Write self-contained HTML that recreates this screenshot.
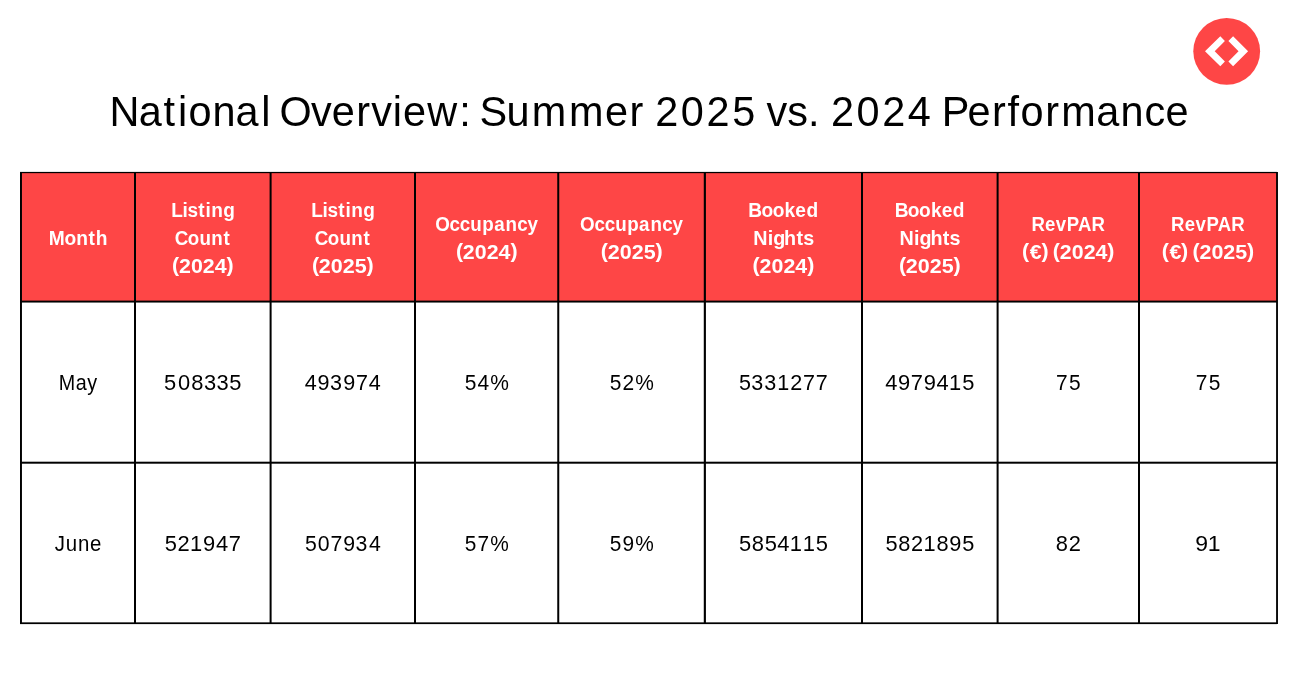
<!DOCTYPE html>
<html lang="en">
<head>
<meta charset="utf-8">
<title>National Overview: Summer 2025 vs. 2024 Performance</title>
<style>
 html,body{margin:0;padding:0;background:#fff;}
 body{width:1298px;height:674px;overflow:hidden;}
 svg{display:block;position:absolute;left:0;top:0;will-change:transform;}
 text{font-family:"Liberation Sans", sans-serif;white-space:pre;}
 .rule{fill:#000;}
 .t{font-weight:400;fill:#000;}
 .h{font-weight:700;fill:#fff;}
 .d{font-weight:400;fill:#000;}
</style>
</head>
<body>
<svg width="1298" height="674" viewBox="0 0 1298 674">
<defs><filter id="gray-aa" x="0" y="0" width="1298" height="674" filterUnits="userSpaceOnUse" color-interpolation-filters="sRGB"><feOffset dx="0" dy="0"/></filter></defs>
<rect x="0" y="0" width="1298" height="674" fill="#ffffff"/>
<g id="logo">
<circle cx="1226.70" cy="51.30" r="33.40" fill="#FE4646"/>
<path fill="#ffffff" d="M1205.0 51.3 L1220.3 36.3 L1224.9 41.05 L1214.7 51.3 L1224.9 61.55 L1220.3 66.3 Z"/>
<path fill="#ffffff" d="M1248.1 51.3 L1233.1 36.3 L1228.4 41.05 L1238.55 51.3 L1228.4 61.55 L1233.1 66.3 Z"/>
</g>
<g id="table">
<rect id="header-fill" x="21.00" y="172.60" width="1255.95" height="129.00" fill="#FE4646"/>
<rect class="rule" x="20.00" y="171.90" width="1257.00" height="1.25"/>
<rect class="rule" x="20.00" y="300.60" width="1257.00" height="1.95"/>
<rect class="rule" x="20.00" y="461.70" width="1257.00" height="2.00"/>
<rect class="rule" x="20.00" y="622.35" width="1257.00" height="1.75"/>
<rect class="rule" x="20.00" y="172.00" width="1.95" height="452.00"/>
<rect class="rule" x="134.00" y="172.00" width="2.00" height="452.00"/>
<rect class="rule" x="269.60" y="172.00" width="2.00" height="452.00"/>
<rect class="rule" x="414.00" y="172.00" width="2.00" height="452.00"/>
<rect class="rule" x="557.25" y="172.00" width="2.00" height="452.00"/>
<rect class="rule" x="703.78" y="172.00" width="2.14" height="452.00"/>
<rect class="rule" x="861.00" y="172.00" width="2.00" height="452.00"/>
<rect class="rule" x="996.60" y="172.00" width="2.00" height="452.00"/>
<rect class="rule" x="1138.00" y="172.00" width="2.00" height="452.00"/>
<rect class="rule" x="1276.10" y="172.00" width="1.85" height="452.00"/>
</g>
<g id="labels" filter="url(#gray-aa)">
<text class="t" font-size="42.90" transform="scale(0.966 1)" x="113.34 143.75 169.35 184.34 195.05 220.05 243.74 270.47 280.06 289.45 321.92 343.40 368.81 384.20 406.57 417.09 442.34 475.30 487.71 496.46 524.35 550.42 589.00 626.29 651.71 666.52 678.31 704.78 731.34 757.99 782.98 793.55 814.92 836.49 848.46 860.26 886.72 913.28 939.74 964.93 974.98 1001.48 1026.89 1042.95 1056.47 1082.17 1098.50 1134.84 1159.84 1184.71 1206.45" y="125.80">National Overview: Summer 2025 vs. 2024 Performance</text>
<text class="h" font-size="20.10" transform="scale(0.955 1)" x="50.99 67.65 79.77 92.64 100.16" y="244.90">Month</text>
<text class="h" font-size="20.10" transform="scale(0.947 1)" x="180.75 192.62 198.11 209.41 217.12 223.06 235.64" y="216.90">Listing</text>
<text class="h" font-size="20.10" transform="scale(0.933 1)" x="187.36 201.36 213.72 226.50 239.59" y="244.90">Count</text>
<text class="h" font-size="20.10" transform="scale(1.063 1)" x="161.76 168.32 179.59 190.80 201.94 213.11" y="272.30 272.90 272.90 272.90 272.90 272.30">(2024)</text>
<text class="h" font-size="20.10" transform="scale(0.947 1)" x="328.59 340.45 345.95 357.24 364.95 370.90 383.47" y="216.90">Listing</text>
<text class="h" font-size="20.10" transform="scale(0.933 1)" x="337.42 351.41 363.77 376.55 389.65" y="244.90">Count</text>
<text class="h" font-size="20.10" transform="scale(1.071 1)" x="291.24 297.73 308.92 320.06 331.28 342.21" y="272.30 272.90 272.90 272.90 272.90 272.30">(2025)</text>
<text class="h" font-size="20.10" transform="scale(0.935 1)" x="465.39 480.76 491.67 502.91 515.79 528.53 540.73 553.16 564.29" y="230.90">Occupancy</text>
<text class="h" font-size="20.10" transform="scale(1.063 1)" x="428.88 435.44 446.71 457.92 469.06 480.24" y="258.30 258.90 258.90 258.90 258.90 258.30">(2024)</text>
<text class="h" font-size="20.10" transform="scale(0.935 1)" x="620.42 635.79 646.70 657.94 670.81 683.56 695.75 708.18 719.32" y="230.90">Occupancy</text>
<text class="h" font-size="20.10" transform="scale(1.071 1)" x="560.99 567.48 578.66 589.80 601.03 611.96" y="258.30 258.90 258.90 258.90 258.90 258.30">(2025)</text>
<text class="h" font-size="20.10" transform="scale(0.953 1)" x="785.24 799.05 810.84 823.33 834.61 846.31" y="216.90">Booked</text>
<text class="h" font-size="20.10" transform="scale(0.983 1)" x="766.23 780.94 786.58 797.68 810.30 817.15" y="244.90">Nights</text>
<text class="h" font-size="20.10" transform="scale(1.063 1)" x="708.00 714.55 725.82 737.04 748.17 759.35" y="272.30 272.90 272.90 272.90 272.90 272.30">(2024)</text>
<text class="h" font-size="20.10" transform="scale(0.953 1)" x="938.80 952.61 964.41 976.89 988.17 999.87" y="216.90">Booked</text>
<text class="h" font-size="20.10" transform="scale(0.983 1)" x="915.11 929.82 935.46 946.56 959.18 966.03" y="244.90">Nights</text>
<text class="h" font-size="20.10" transform="scale(1.071 1)" x="839.33 845.82 857.00 868.14 879.37 890.30" y="272.30 272.90 272.90 272.90 272.90 272.30">(2025)</text>
<text class="h" font-size="20.10" transform="scale(0.925 1)" x="1115.05 1129.78 1141.46 1153.30 1165.52 1180.02" y="230.90">RevPAR</text>
<text class="h" font-size="20.10" transform="scale(1.062 1)" x="962.45 969.60 980.59 987.09 991.32 997.88 1009.16 1020.40 1031.54 1042.72" y="258.30 258.90 258.30 258.90 258.30 258.90 258.90 258.90 258.90 258.30">(€) (2024)</text>
<text class="h" font-size="20.10" transform="scale(0.925 1)" x="1266.08 1280.81 1292.49 1304.32 1316.55 1331.05" y="230.90">RevPAR</text>
<text class="h" font-size="20.10" transform="scale(1.068 1)" x="1087.83 1094.93 1105.88 1112.35 1116.54 1123.05 1134.27 1145.43 1156.69 1167.65" y="258.30 258.90 258.30 258.90 258.30 258.90 258.90 258.90 258.90 258.30">(€) (2025)</text>
<text class="d" font-size="21.65" transform="scale(0.912 1)" x="64.48 82.94 95.80" y="389.90">May</text>
<text class="d" font-size="21.90" x="163.88 177.96 191.34 204.05 216.57 229.26" y="389.85">508335</text>
<text class="d" font-size="21.65" transform="scale(0.996 1)" x="306.02 318.88 331.22 344.59 357.39 370.30" y="389.90">493974</text>
<text class="d" font-size="21.65" transform="scale(0.970 1)" x="479.08 492.19 505.38" y="389.90">54%</text>
<text class="d" font-size="21.65" transform="scale(0.967 1)" x="630.49 643.65 656.88" y="389.90">52%</text>
<text class="d" font-size="21.65" transform="scale(0.997 1)" x="741.35 753.60 766.44 779.47 792.65 805.42 818.26" y="389.90">5331277</text>
<text class="d" font-size="21.65" transform="scale(1.011 1)" x="875.68 888.34 900.95 913.67 926.33 938.67 951.75" y="389.90">4979415</text>
<text class="d" font-size="21.65" transform="scale(0.967 1)" x="1092.06 1105.46" y="389.90">75</text>
<text class="d" font-size="21.65" transform="scale(0.967 1)" x="1236.53 1249.93" y="389.90">75</text>
<text class="d" font-size="21.65" transform="scale(0.943 1)" x="58.19 69.79 82.73 95.34" y="550.80">June</text>
<text class="d" font-size="21.65" transform="scale(1.012 1)" x="162.84 175.42 187.73 200.70 213.36 225.95" y="550.80">521947</text>
<text class="d" font-size="21.65" transform="scale(0.983 1)" x="310.24 323.17 336.14 349.23 361.73 375.28" y="550.80">507934</text>
<text class="d" font-size="21.65" transform="scale(0.964 1)" x="482.11 495.23 508.59" y="550.80">57%</text>
<text class="d" font-size="21.65" transform="scale(0.964 1)" x="632.47 645.65 658.95" y="550.80">59%</text>
<text class="d" font-size="21.65" transform="scale(1.014 1)" x="728.83 741.36 754.08 766.62 778.93 791.55 804.59" y="550.80">5854115</text>
<text class="d" font-size="21.65" transform="scale(1.005 1)" x="881.02 893.67 906.44 918.84 931.89 944.64 957.47" y="550.80">5821895</text>
<text class="d" font-size="21.65" transform="scale(1.010 1)" x="1045.37 1058.06" y="550.80">82</text>
<text class="d" font-size="21.65" transform="scale(1.062 1)" x="1125.43 1137.17" y="550.80">91</text>
</g>
</svg>
</body>
</html>
